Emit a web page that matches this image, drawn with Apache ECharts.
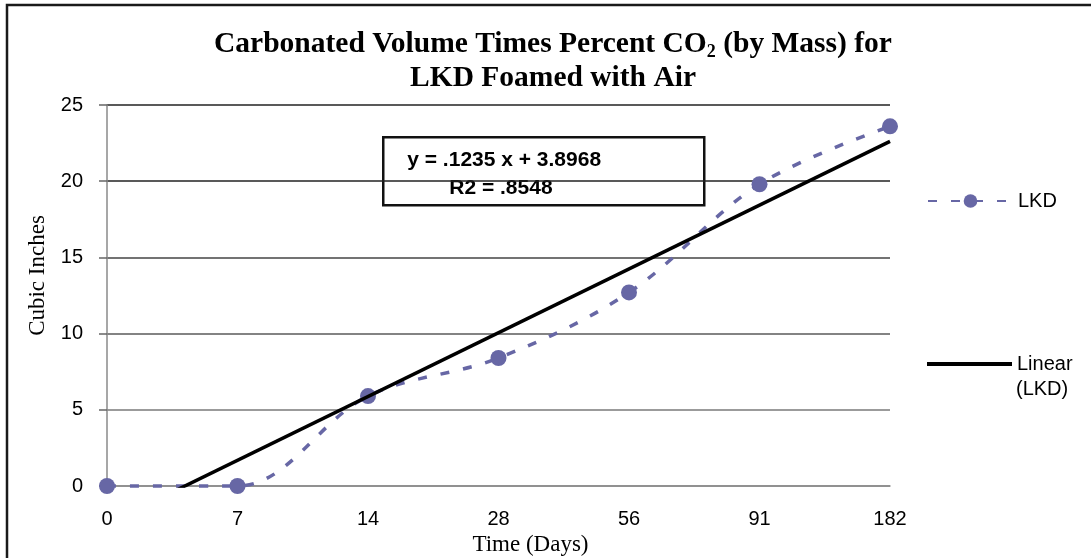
<!DOCTYPE html>
<html>
<head>
<meta charset="utf-8">
<title>Carbonated Volume Times Percent CO2 (by Mass) for LKD Foamed with Air</title>
<script src="https://cdn.jsdelivr.net/npm/echarts@6/dist/echarts.min.js"></script>
<style>
  html, body { margin: 0; padding: 0; background: #fff; }
  #chart { width: 1091px; height: 558px; }
</style>
</head>
<body>
<div id="chart"></div>
<script>
// Sampling days (evenly spaced on the axis) and measured values
const dayLabels = ['0', '7', '14', '28', '56', '91', '182'];
const lkdValues = [0, 0, 5.9, 8.4, 12.7, 19.8, 23.6];
const yTickMin = 0;
const yTickMax = 25;
const yTickStep = 5;
const equationLines = ['y = .1235 x + 3.8968', 'R2 = .8548'];

// Least-squares linear trend over the point positions on the axis
function linearFit(values) {
  const n = values.length;
  let sx = 0, sy = 0, sxx = 0, sxy = 0;
  values.forEach((y, i) => { sx += i; sy += y; sxx += i * i; sxy += i * y; });
  const slope = (n * sxy - sx * sy) / (n * sxx - sx * sx);
  const intercept = (sy - slope * sx) / n;
  return { slope, intercept };
}
const fit = linearFit(lkdValues);
const lastIdx = lkdValues.length - 1;
const trendPoints = [[0, fit.intercept], [lastIdx, fit.slope * lastIdx + fit.intercept]];

const lkdPoints = lkdValues.map((v, i) => [i, v]);

const chart = echarts.init(document.getElementById('chart'), null, { renderer: 'canvas' });

const serif = "'Liberation Serif', 'Times New Roman', serif";
const sans = "'Liberation Sans', Arial, sans-serif";
const markColor = '#6767a5';

chart.setOption({
  backgroundColor: '#ffffff',
  animation: false,
  title: {
    text: 'Carbonated Volume Times Percent CO{sub|2} (by Mass) for\nLKD Foamed with Air',
    left: 548,
    textAlign: 'center',
    top: 22,
    textStyle: {
      fontFamily: serif,
      fontWeight: 'bold',
      fontSize: 29.5,
      lineHeight: 34,
      color: '#000',
      rich: {
        sub: {
          fontFamily: serif,
          fontWeight: 'bold',
          fontSize: 18,
          lineHeight: 14,
          verticalAlign: 'bottom',
          color: '#000'
        }
      }
    }
  },
  grid: { left: 107, right: 201, top: 105, bottom: 72, containLabel: false, outerBoundsMode: 'none' },
  legend: [
    {
      data: ['LKD'],
      orient: 'vertical',
      left: 922,
      top: 186,
      itemWidth: 85,
      itemHeight: 17,
      itemGap: 0,
      textStyle: { fontFamily: sans, fontSize: 20, color: '#000' }
    },
    {
      data: [{ name: 'Linear (LKD)', icon: 'rect' }],
      formatter: () => 'Linear',
      orient: 'vertical',
      left: 922,
      top: 347,
      itemWidth: 85,
      itemHeight: 4,
      itemGap: 0,
      textStyle: { fontFamily: sans, fontSize: 20, color: '#000', lineHeight: 24 }
    }
  ],
  xAxis: {
    type: 'value',
    min: 0,
    max: lastIdx,
    interval: 1,
    name: 'Time (Days)',
    nameLocation: 'middle',
    nameGap: 45,
    nameTextStyle: { fontFamily: serif, fontSize: 23, color: '#000', padding: [0, 0, 0, 64] },
    axisLine: { show: true, lineStyle: { color: '#8a8a8a', width: 1.5 } },
    axisTick: { show: false },
    splitLine: { show: false },
    axisLabel: {
      margin: 23,
      fontFamily: sans,
      fontSize: 20,
      color: '#000',
      formatter: (v) => dayLabels[v] ?? ''
    }
  },
  yAxis: {
    type: 'value',
    min: yTickMin,
    max: yTickMax,
    interval: yTickStep,
    name: 'Cubic Inches',
    nameLocation: 'middle',
    nameRotate: 90,
    nameGap: 58,
    nameTextStyle: { fontFamily: serif, fontSize: 23, color: '#000', padding: [0, 0, 0, 40] },
    axisLine: { show: true, lineStyle: { color: '#8a8a8a', width: 1.5 } },
    axisTick: { show: true, inside: false, length: 8, lineStyle: { color: '#666', width: 1.5 } },
    axisLabel: { margin: 24, fontFamily: sans, fontSize: 20, color: '#000' },
    splitLine: {
      show: true,
      lineStyle: { color: ['#8a8a8a', '#7a7a7a', '#5a5a5a', '#444', '#222', '#222'], width: 1.5 }
    }
  },
  series: [
    {
      name: 'LKD',
      type: 'line',
      data: lkdPoints,
      smooth: 0.35,
      clip: false,
      symbol: 'circle',
      symbolSize: 16,
      itemStyle: { color: markColor },
      lineStyle: { color: markColor, width: 3.5, type: [9, 14] },
      z: 3
    },
    {
      name: 'Linear (LKD)',
      type: 'line',
      data: trendPoints,
      symbol: 'none',
      clip: true,
      itemStyle: { color: '#000' },
      lineStyle: { color: '#000', width: 3.5 },
      z: 4
    }
  ],
  graphic: [
    {
      type: 'polyline',
      shape: { points: [[7, 558], [7, 5], [1091, 5]] },
      style: { stroke: '#1a1a1a', lineWidth: 2.5, fill: null },
      silent: true
    },
    {
      type: 'group',
      left: 382,
      top: 136,
      z: 10,
      children: [
        {
          type: 'rect',
          shape: { x: 0, y: 0, width: 321, height: 68 },
          style: { fill: '#fff', stroke: '#111', lineWidth: 2.5 }
        },
        {
          type: 'text',
          x: 24,
          y: 23,
          style: {
            text: equationLines[0],
            fontFamily: sans, fontWeight: 'bold', fontSize: 21, fill: '#000',
            textVerticalAlign: 'middle'
          }
        },
        {
          type: 'text',
          x: 66,
          y: 51,
          style: {
            text: equationLines[1],
            fontFamily: sans, fontWeight: 'bold', fontSize: 21, fill: '#000',
            textVerticalAlign: 'middle'
          }
        }
      ]
    },
    {
      type: 'text',
      left: 1016,
      top: 379,
      style: { text: '(LKD)', fontFamily: sans, fontSize: 20, fill: '#000' }
    }
  ]
});
</script>
</body>
</html>
